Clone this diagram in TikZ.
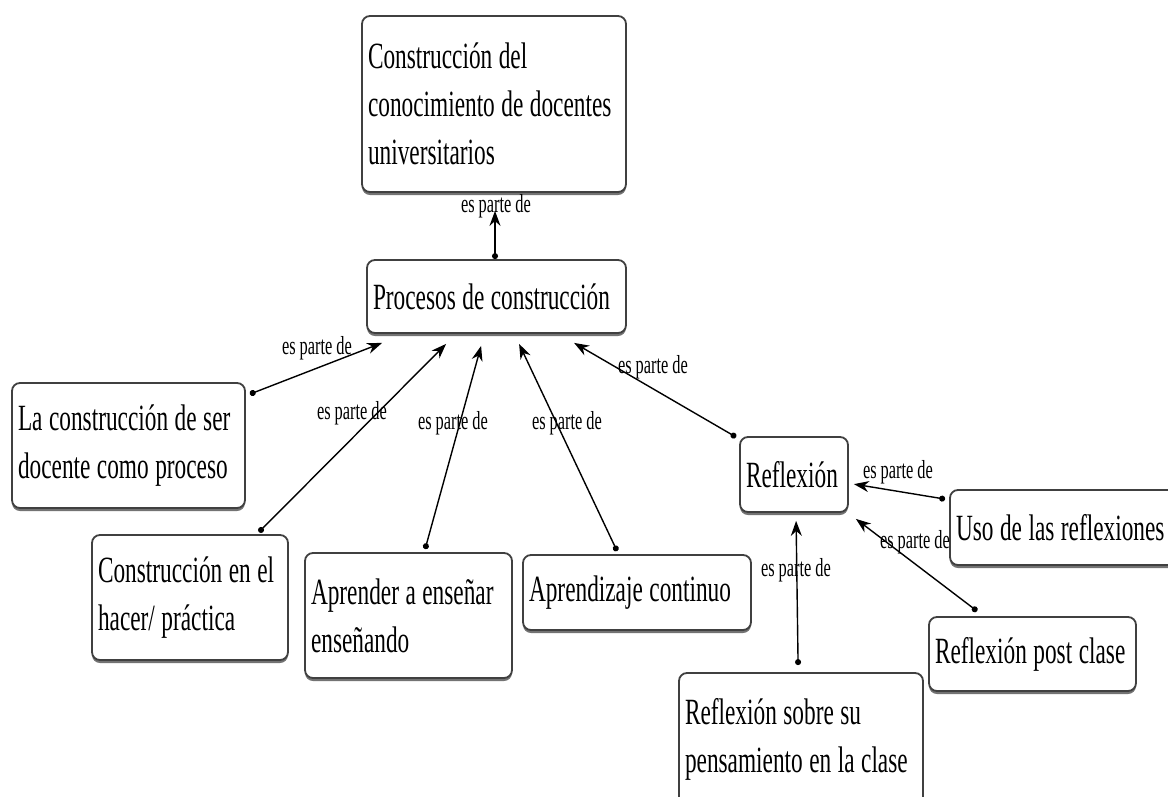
\documentclass[tikz,border=0pt]{standalone}
\usepackage{fontspec}
\setmainfont{Liberation Serif}[FakeStretch=0.63]
\usetikzlibrary{arrows.meta,shadows}
\newcommand{\myboxfont}{\fontsize{37}{48}\selectfont}
\newcommand{\mylblfont}{\fontsize{26}{28}\selectfont\spaceskip=4pt\relax}
\newcommand{\mytightspace}{\spaceskip=6.5pt plus 1pt\relax}
\tikzset{
  box/.style={draw=black!75, line width=1.8pt, rounded corners=8pt, fill=white,
    align=left, inner xsep=6pt, inner ysep=2pt,
    font=\myboxfont, execute at begin node=\mytightspace,
    drop shadow={shadow xshift=0pt, shadow yshift=-3pt, fill=black!55, opacity=1}},
  lbl/.style={font=\mylblfont, inner sep=0pt},
  conn/.style={line width=1.4pt, {Circle[length=6pt]}-{Stealth[length=15pt,width=11pt]}}
}
\begin{document}
\begin{tikzpicture}[x=1pt,y=-1pt]
\useasboundingbox (0,0) rectangle (1168,796);
\clip (0,0) rectangle (1168,796);

\node[box, text width=252pt, minimum height=176pt] (top) at (494,104)
  {\mbox{Construcción del}\\\mbox{conocimiento de docentes}\\\mbox{universitarios}};
\node[box, text width=247pt, minimum height=73pt] (proc) at (496.5,296.5)
  {\mbox{Procesos de construcción}};
\node[box, text width=221pt, minimum height=125pt] (lcs) at (128.5,445.5)
  {\mbox{La construcción de ser}\\\mbox{docente como proceso}};
\node[box, text width=184pt, minimum height=125pt] (ceh) at (190,597.5)
  {\mbox{Construcción en el}\\\mbox{hacer/ práctica}};
\node[box, text width=195pt, minimum height=125pt] (aae) at (408.5,615.5)
  {\mbox{Aprender a enseñar}\\\mbox{enseñando}};
\node[box, text width=216pt, minimum height=75pt] (apc) at (637,592.5)
  {\mbox{Aprendizaje continuo}};
\node[box, text width=96pt, minimum height=75pt] (refl) at (794,474.5)
  {\mbox{Reflexión}};
\node[box, text width=223pt, minimum height=75pt] (uso) at (1067.5,527.5)
  {\mbox{Uso de las reflexiones}};
\node[box, text width=195pt, minimum height=74pt] (rpc) at (1032.5,654)
  {\mbox{Reflexión post clase}};
\node[box, text width=232pt, minimum height=132pt] (rsp) at (801,739)
  {\mbox{Reflexión sobre su}\\\mbox{pensamiento en la clase}};

% connectors
\draw[conn] ([xshift=-1.5pt]proc.north) -- ([xshift=1pt,yshift=-18pt]top.south);
\draw[conn] ([xshift=4pt,yshift=-12pt]lcs.north east) -- ([xshift=16pt,yshift=-9pt]proc.south west);
\draw[conn] ([xshift=-30pt,yshift=2pt]ceh.north east) -- ([xshift=80pt,yshift=-10pt]proc.south west);
\draw[conn] ([xshift=121pt,yshift=3pt]aae.north west) -- ([xshift=115pt,yshift=-12pt]proc.south west);
\draw[conn] ([xshift=95pt,yshift=3pt]apc.north west) -- ([xshift=153pt,yshift=-10pt]proc.south west);
\draw[conn] ([xshift=-3pt,yshift=-1pt]refl.north west) -- ([xshift=208pt,yshift=-9pt]proc.south west);
\draw[conn] ([xshift=-4pt,yshift=-10pt]uso.north west) -- ([xshift=5pt,yshift=-48pt]refl.north east);
\draw[conn] ([xshift=49pt,yshift=5pt]rpc.north west) -- ([xshift=7pt,yshift=-6pt]refl.south east);
\draw[conn] ([xshift=120pt,yshift=7pt]rsp.north west) -- ([xshift=57pt,yshift=-8pt]refl.south west);

% labels
\node[lbl] (l1) at (496,206) {es parte de};
\node[lbl] (l2) at (317,348) {es parte de};
\node[lbl] (l3) at (352,413) {es parte de};
\node[lbl] (l4) at (453,423) {es parte de};
\node[lbl] (l5) at (567,423) {es parte de};
\node[lbl] (l6) at (653,367) {es parte de};
\node[lbl] (l7) at (898,472) {es parte de};
\node[lbl] (l8) at (915,542) {es parte de};
\node[lbl] (l9) at (796,570) {es parte de};
\end{tikzpicture}
\end{document}
